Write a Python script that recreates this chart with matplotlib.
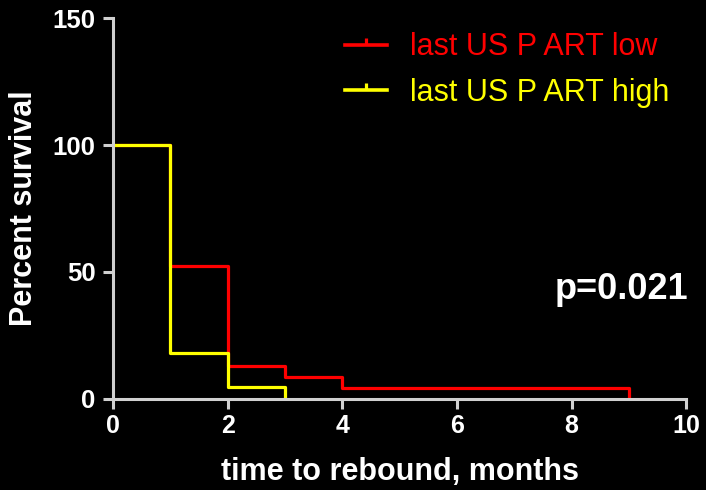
import matplotlib.pyplot as plt
from matplotlib.lines import Line2D

plt.rcParams['font.family'] = ['Liberation Sans', 'DejaVu Sans']

# Kaplan-Meier steps (time in months, percent survival)
low_t = [0, 1, 2, 3, 4, 9]
low_s = [100, 52.2, 13.0, 8.7, 4.3, 0]
high_t = [0, 1, 2, 3]
high_s = [100, 18.2, 4.5, 0]

low_label = 'last US P ART low'
high_label = 'last US P ART high'
xticks = [0, 2, 4, 6, 8, 10]
yticks = [0, 50, 100, 150]

fig = plt.figure(figsize=(7.06, 4.9), dpi=100, facecolor='black')
ax = fig.add_axes([0.160, 0.186, 0.812, 0.777], facecolor='black')

ax.step(low_t, low_s, where='post', color='#ff0000', lw=2.3)
ax.step(high_t, high_s, where='post', color='#ffff00', lw=2.3)

ax.set_xlim(0, 10)
ax.set_ylim(0, 150)
ax.set_xticks(xticks)
ax.set_yticks(yticks)

axis_col = '#d0d0d0'
for side in ['top', 'right']:
    ax.spines[side].set_visible(False)
for side in ['left', 'bottom']:
    ax.spines[side].set_color(axis_col)
    ax.spines[side].set_linewidth(2.2)
ax.tick_params(colors=axis_col, width=2.2, length=7, labelcolor='white')
ax.tick_params(axis='x', labelsize=18, pad=4)
ax.tick_params(axis='y', labelsize=18.5, pad=5.5)
for lab in ax.get_xticklabels() + ax.get_yticklabels():
    lab.set_fontweight('bold')

# axis titles placed in figure coordinates
fig.text(0.5 * (0.160 + 0.972), 0.037, 'time to rebound, months',
         color='white', fontsize=22, fontweight='bold',
         ha='center', va='center')
fig.text(0.034, 0.576, 'Percent survival', color='white', fontsize=22,
         fontweight='bold', rotation=90, ha='center', va='center')

handles = [
    Line2D([0], [0], color='#ff0000', lw=2.6, marker=2, markersize=5, mew=2.3),
    Line2D([0], [0], color='#ffff00', lw=2.6, marker=2, markersize=5, mew=2.3),
]
leg = ax.legend(handles, [low_label, high_label], loc='upper left',
                bbox_to_anchor=(0.356, 1.035), frameon=False, fontsize=22,
                handlelength=1.4, handletextpad=0.75, labelspacing=0.5)
for txt, col in zip(leg.get_texts(), ['#ff0000', '#ffff00']):
    txt.set_color(col)

ax.text(1.003, 0.286, 'p=0.021', transform=ax.transAxes, color='white',
        fontsize=26, fontweight='bold', ha='right', va='center')

fig.savefig('out.png', dpi=100, facecolor='black')
